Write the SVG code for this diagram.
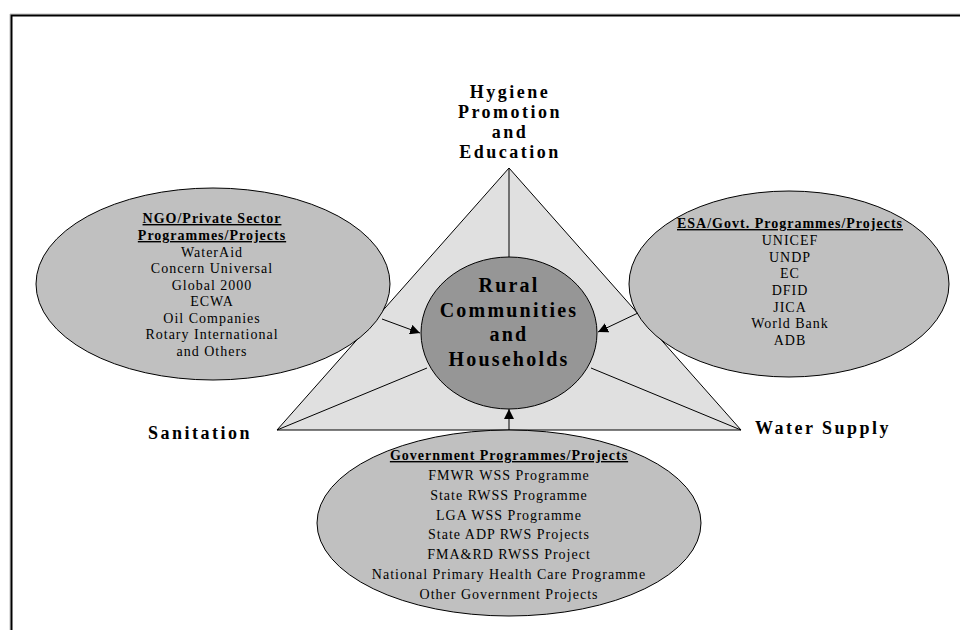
<svg xmlns="http://www.w3.org/2000/svg" width="960" height="630" viewBox="0 0 960 630">
<style>
.t{font-family:"Liberation Serif","Times New Roman",serif;fill:#000;text-anchor:middle}
.h{font-size:14px;font-weight:bold;letter-spacing:1px;text-decoration:underline}
.i{font-size:14px;letter-spacing:1px}
.lab{font-size:18px;font-weight:bold;letter-spacing:2.5px}
.core{font-size:20px;font-weight:bold;letter-spacing:2.2px}
.ell{stroke:#000;stroke-width:1;fill:#c0c0c0}
.ln{stroke:#000;stroke-width:1;fill:none}
</style>
<defs>
<marker id="ah" viewBox="0 0 10 10" refX="10" refY="5" markerWidth="10" markerHeight="10" markerUnits="userSpaceOnUse" orient="auto">
<path d="M0,0 L10,5 L0,10 z" fill="#000"/>
</marker>
</defs>
<rect x="0" y="0" width="960" height="630" fill="#fff"/>
<path d="M10,631 V14 H961" fill="none" stroke="#c0c0c0" stroke-width="1"/>
<path d="M11.5,631 V15.5 H961" fill="none" stroke="#000" stroke-width="2"/>

<g id="triangle">
<polygon points="509,168 277,430 741,430" fill="#e0e0e0" stroke="#000" stroke-width="1"/>
<line class="ln" x1="509" y1="168" x2="509" y2="257"/>
<line class="ln" x1="277" y1="430" x2="427" y2="368"/>
<line class="ln" x1="741" y1="430" x2="591" y2="368"/>
</g>

<g id="hygiene">
<text class="t lab" x="510" y="98">Hygiene</text>
<text class="t lab" x="510" y="118">Promotion</text>
<text class="t lab" x="510" y="138">and</text>
<text class="t lab" x="510" y="158">Education</text>
</g>
<g id="sanitation"><text class="t lab" x="200" y="439">Sanitation</text></g>
<g id="water-supply"><text class="t lab" x="823" y="434">Water Supply</text></g>

<g id="ngo">
<ellipse class="ell" cx="213" cy="284" rx="177" ry="96"/>
<text class="t h" x="212" y="223">NGO/Private Sector</text>
<text class="t h" x="212" y="240">Programmes/Projects</text>
<text class="t i" x="212" y="257">WaterAid</text>
<text class="t i" x="212" y="273">Concern Universal</text>
<text class="t i" x="212" y="290">Global 2000</text>
<text class="t i" x="212" y="306">ECWA</text>
<text class="t i" x="212" y="323">Oil Companies</text>
<text class="t i" x="212" y="339">Rotary International</text>
<text class="t i" x="212" y="356">and Others</text>
</g>

<g id="esa">
<ellipse class="ell" cx="789" cy="284" rx="160" ry="93"/>
<text class="t h" x="790" y="228">ESA/Govt. Programmes/Projects</text>
<text class="t i" x="790" y="245">UNICEF</text>
<text class="t i" x="790" y="262">UNDP</text>
<text class="t i" x="790" y="278">EC</text>
<text class="t i" x="790" y="295">DFID</text>
<text class="t i" x="790" y="312">JICA</text>
<text class="t i" x="790" y="328">World Bank</text>
<text class="t i" x="790" y="345">ADB</text>
</g>

<g id="government">
<ellipse class="ell" cx="509" cy="523" rx="192" ry="93"/>
<text class="t h" x="509" y="460">Government Programmes/Projects</text>
<text class="t i" x="509" y="480">FMWR WSS Programme</text>
<text class="t i" x="509" y="500">State RWSS Programme</text>
<text class="t i" x="509" y="520">LGA WSS Programme</text>
<text class="t i" x="509" y="539">State ADP RWS Projects</text>
<text class="t i" x="509" y="559">FMA&amp;RD RWSS Project</text>
<text class="t i" x="509" y="579">National Primary Health Care Programme</text>
<text class="t i" x="509" y="599">Other Government Projects</text>
</g>

<g id="rural">
<ellipse cx="509" cy="333" rx="88" ry="76" fill="#969696" stroke="#000" stroke-width="1"/>
<text class="t core" x="509" y="292">Rural</text>
<text class="t core" x="509" y="317">Communities</text>
<text class="t core" x="509" y="341">and</text>
<text class="t core" x="509" y="366">Households</text>
</g>

<g id="connectors">
<line class="ln" x1="382" y1="319" x2="420" y2="333" marker-end="url(#ah)"/>
<line class="ln" x1="638" y1="313" x2="598" y2="332" marker-end="url(#ah)"/>
<line class="ln" x1="509" y1="430" x2="509" y2="409" marker-end="url(#ah)"/>
</g>
</svg>
